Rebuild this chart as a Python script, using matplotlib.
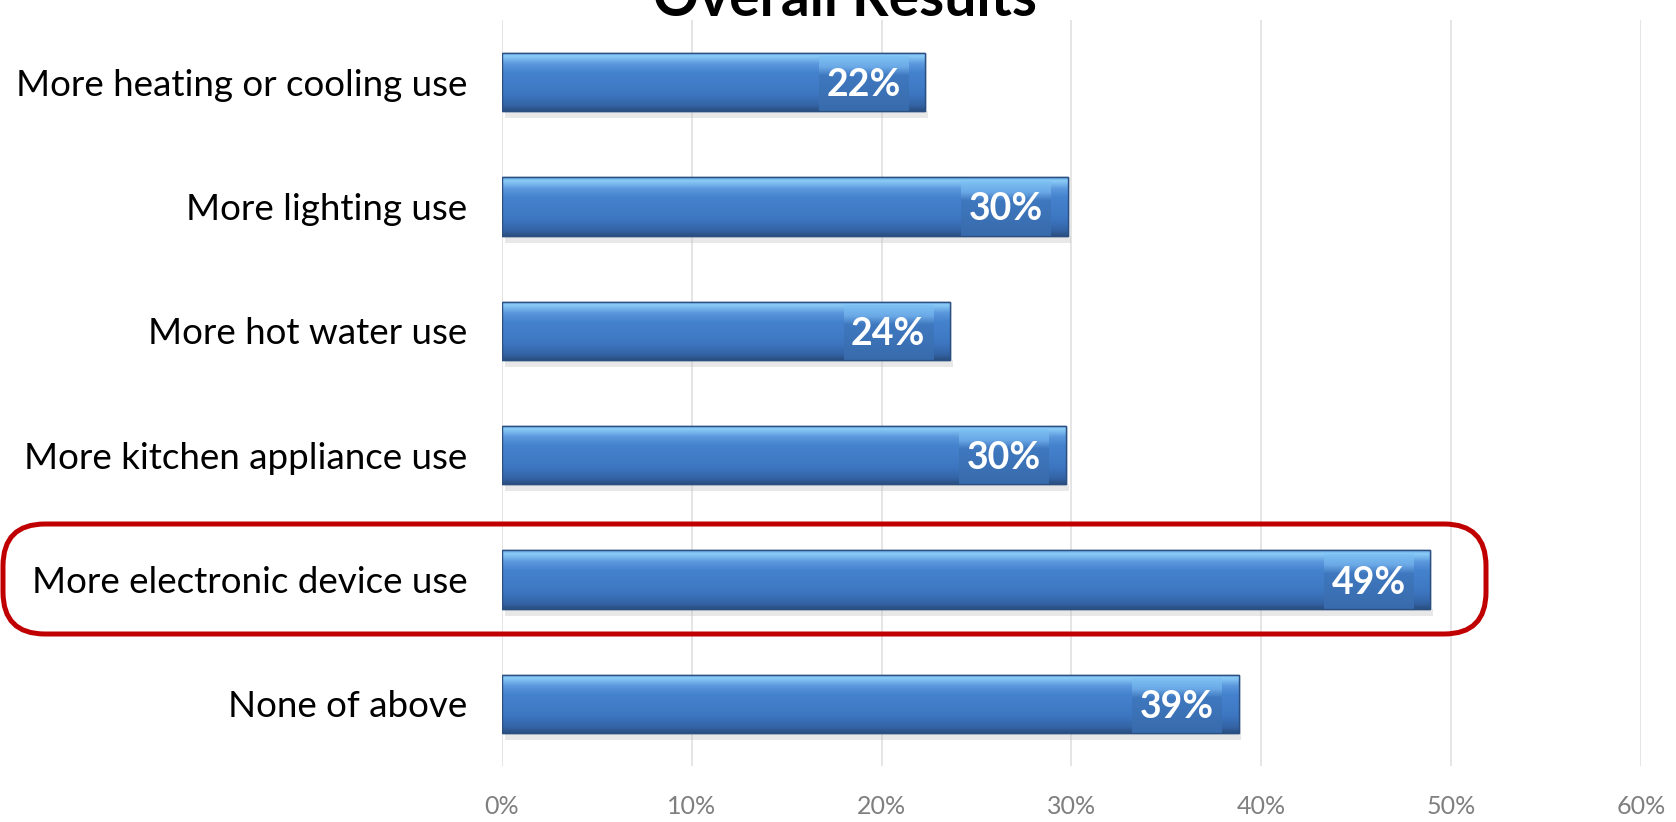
import numpy as np
import matplotlib
matplotlib.use("Agg")
import matplotlib.pyplot as plt
from matplotlib.colors import LinearSegmentedColormap
from matplotlib.patches import FancyBboxPatch, Rectangle

categories = ["More heating or cooling use", "More lighting use", "More hot water use",
              "More kitchen appliance use", "More electronic device use", "None of above"]
values = [22.3, 29.8, 23.6, 29.7, 48.9, 38.8]
xticks = [0, 10, 20, 30, 40, 50, 60]
xtick_labels = ["0%", "10%", "20%", "30%", "40%", "50%", "60%"]
title = "Overall Results"
highlight_index = 4

plt.rcParams['font.family'] = ['Lato', 'DejaVu Sans']

fig = plt.figure(figsize=(16.76, 8.22), dpi=100)
ax = fig.add_axes([0.2995, 0.068, 0.6796, 0.9076])

ypos = np.arange(len(categories))
bar_h = 0.47
bars = ax.barh(ypos, values, height=bar_h, color='#3F7BC8', edgecolor='#2B4F80',
               linewidth=1.0, zorder=3)

bar_cmap = LinearSegmentedColormap.from_list("bar", [
    (0.0, '#5E9FE0'), (0.06, '#8CCDF8'), (0.2, '#5A97DC'), (0.35, '#4582CE'),
    (0.7, '#3D77C2'), (0.9, '#3464A6'), (1.0, '#2A4E80')])
box_cmap = LinearSegmentedColormap.from_list("box", [
    (0.0, '#7EC2F3'), (0.2, '#6AA8E6'), (0.35, '#3F78BF'), (1.0, '#386BAC')])
grad = np.linspace(0, 1, 256).reshape(-1, 1)

for b, v in zip(bars, values):
    x0, y0, w, h = b.get_x(), b.get_y(), b.get_width(), b.get_height()
    # shadow
    ax.add_patch(Rectangle((x0 + 0.15, y0 + h), w, h * 0.12, facecolor='#BFBFBF',
                           alpha=0.35, edgecolor='none', zorder=2))
    im = ax.imshow(grad, cmap=bar_cmap, aspect='auto', extent=(x0, x0 + w, y0 + h, y0),
                   zorder=3.5, interpolation='bicubic')
    im.set_clip_path(b)
    # label box
    bw = 4.7
    bx = x0 + w - 0.9 - bw
    by0 = y0 + h * 0.07
    ax.imshow(grad, cmap=box_cmap, aspect='auto',
              extent=(bx, bx + bw, y0 + h, by0), zorder=3.6, interpolation='bicubic')
    ax.text(bx + bw / 2, y0 + h * 0.55, f"{round(v):d}%", color='white', fontsize=27,
            fontweight='bold', ha='center', va='center', zorder=4)
    ax.add_patch(Rectangle((x0, y0), w, h, facecolor='none', edgecolor='#2B4F80',
                           linewidth=1.0, zorder=3.7))

ax.set_xlim(0, 60)
ax.set_ylim(len(categories) - 0.5, -0.5)
ax.set_xticks(xticks)
ax.set_xticklabels(xtick_labels, color='#7F7F7F', fontsize=18)
ax.set_yticks(ypos)
ax.set_yticklabels(categories, fontsize=26.5, color='black')
ax.tick_params(axis='x', length=0, pad=21)
ax.tick_params(axis='y', length=0, pad=25)
for s in ax.spines.values():
    s.set_visible(False)
ax.grid(axis='x', color='#E0E0E0', linewidth=1.2, zorder=0)
ax.set_axisbelow(True)

fig.text(0.504, 0.981, title, ha='center', va='baseline', fontsize=41, fontweight='bold')

# highlight frame around selected category
box = FancyBboxPatch((3 / 1676, 1 - 634 / 822), (1486 - 3) / 1676, (634 - 524) / 822,
                     boxstyle="round,pad=0,rounding_size=0.025", transform=fig.transFigure,
                     facecolor='none', edgecolor='#C00000', linewidth=3.6, zorder=10,
                     mutation_aspect=1676 / 822)
fig.patches.append(box)

fig.savefig("out.png", dpi=100)
